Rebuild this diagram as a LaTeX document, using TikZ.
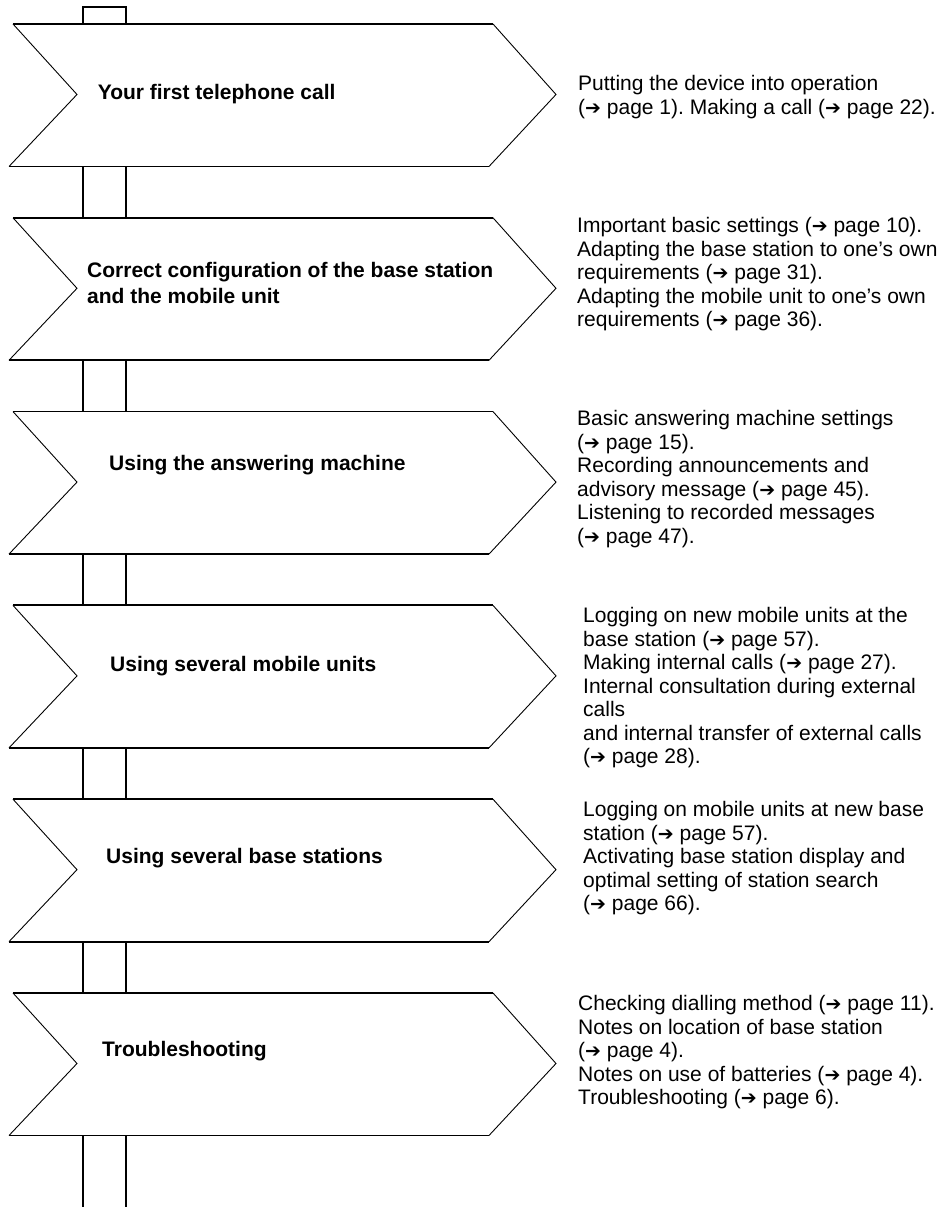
\documentclass[tikz,border=0pt]{standalone}
\usepackage{fontspec}
\setmainfont{Liberation Sans}
\newfontfamily\arrowfont{DejaVu Sans}
\newcommand{\pg}{{\arrowfont\fontsize{19}{19}\selectfont ➔}}
\frenchspacing

\begin{document}
\begin{tikzpicture}[x=1pt,y=1pt,
    font=\fontsize{21}{23.5}\selectfont,inner sep=0pt,
    board/.style={line width=0.9pt},
    edge/.style={line width=1.8pt},
    pole/.style={line width=1.7pt},
    topic/.style={anchor=base west,align=left,
      font=\fontsize{21}{26.5}\selectfont\bfseries},
    hint/.style={anchor=base west,align=left}]
    \path[use as bounding box] (0,0) rectangle (947,1207);
    % the pole
    \draw[pole] (83,1183) -- (83,1200) -- (126,1200) -- (126,1183);
    \foreach \b/\t in {1040.5/989.2,846.7/795.4,652.9/601.6,
                       459.1/407.8,265.3/214,71.5/0} {
      \draw[pole] (83,\b) -- (83,\t);
      \draw[pole] (126,\b) -- (126,\t);
    }
    % the boards
    \foreach \t in {1183,989.2,795.4,601.6,407.8,214} {
      \draw[edge] (13,\t) -- (493,\t);
      \draw[edge] (9,\t-142.5) -- (489,\t-142.5);
      \draw[board] (493,\t) -- (556,\t-70.5) -- (489,\t-142.5);
      \draw[board] (13,\t) -- (77,\t-70.5) -- (9,\t-142.5);
    }
    % base anchors sit on the last line
    \node[topic] (call) at (97.6,1107) {Your first telephone call};
    \node[topic] (config) at (87,903)
      {Correct configuration of the base station\\and the mobile unit};
    \node[topic] (answer) at (109,736.5) {Using the answering machine};
    \node[topic] (units) at (110,535.5) {Using several mobile units};
    \node[topic] (bases) at (106,343.5) {Using several base stations};
    \node[topic] (trouble) at (102,150) {Troubleshooting};
    \node[hint] (callhint) at (578,1092.5)
      {Putting the device into operation\\(\pg{} page 1). Making a call (\pg{} page 22).};
    \node[hint] (confighint) at (577,880)
      {Important basic settings (\pg{} page 10).\\Adapting the base station to one’s own\\
       requirements (\pg{} page 31).\\Adapting the mobile unit to one’s own\\
       requirements (\pg{} page 36).};
    \node[hint] (answerhint) at (577,663.5)
      {Basic answering machine settings\\(\pg{} page 15).\\Recording announcements and\\
       advisory message (\pg{} page 45).\\Listening to recorded messages\\(\pg{} page 47).};
    \node[hint] (unitshint) at (583,443)
      {Logging on new mobile units at the\\base station (\pg{} page 57).\\
       Making internal calls (\pg{} page 27).\\Internal consultation during external\\calls\\
       and internal transfer of external calls\\(\pg{} page 28).};
    \node[hint] (baseshint) at (583,296)
      {Logging on mobile units at new base\\station (\pg{} page 57).\\
       Activating base station display and\\optimal setting of station search\\(\pg{} page 66).};
    \node[hint] (troublehint) at (578,102)
      {Checking dialling method (\pg{} page 11).\\Notes on location of base station\\
       (\pg{} page 4).\\Notes on use of batteries (\pg{} page 4).\\Troubleshooting (\pg{} page 6).};
  \end{tikzpicture}
\end{document}
